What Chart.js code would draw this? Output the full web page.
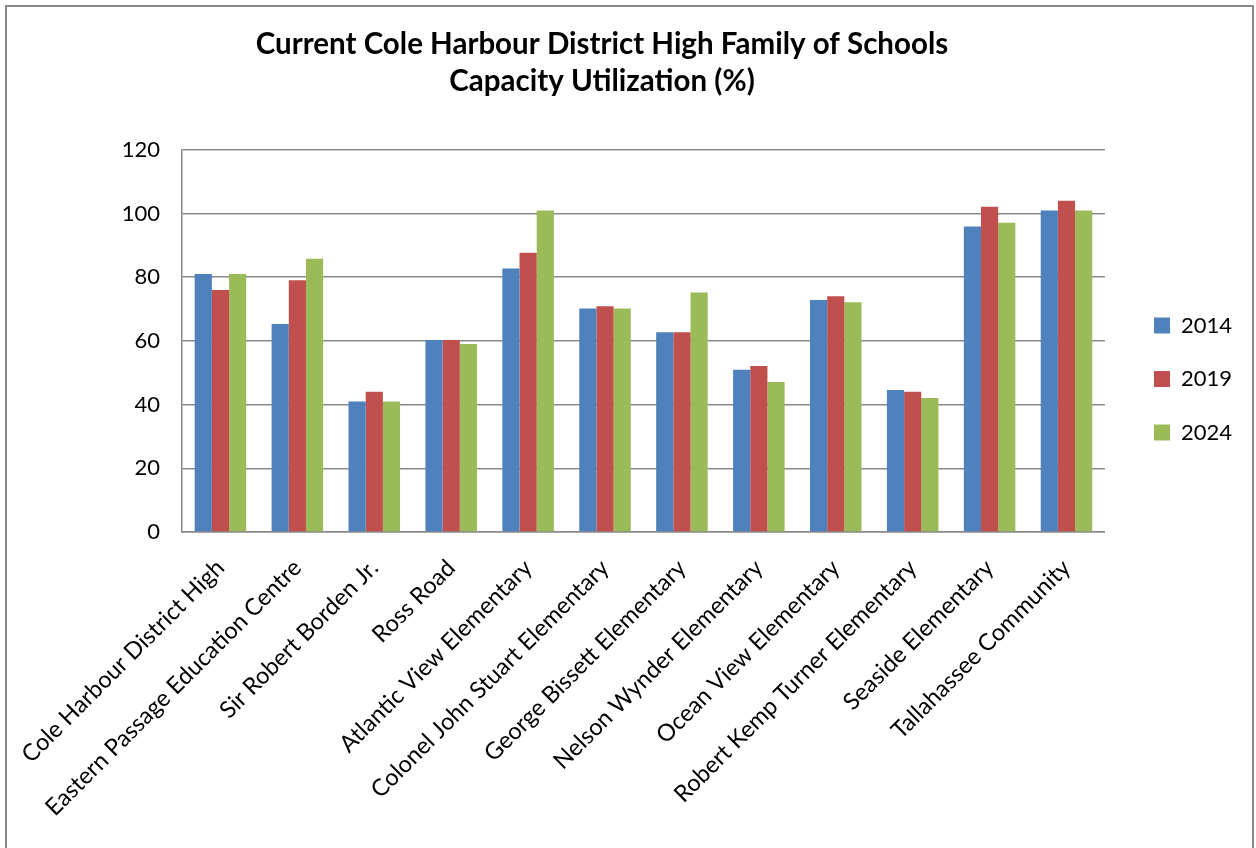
<!DOCTYPE html>
<html>
<head>
<meta charset="utf-8">
<script src="https://cdn.jsdelivr.net/npm/chart.js@4.4.1/dist/chart.umd.min.js"></script>
<style>
    html, body { margin: 0; padding: 0; background: #fff; }
    #chart { position: absolute; left: 0; top: 0; }
    #frame {
        position: absolute; left: 5px; top: 5px; width: 1245px; height: 850px;
        border: 2px solid #898989; border-bottom: none; pointer-events: none;
    }
</style>
</head>
<body>
<canvas id="chart" width="1256" height="848"></canvas>
<div id="frame"></div>
<script>
// data
const schools = [
    'Cole Harbour District High',
    'Eastern Passage Education Centre',
    'Sir Robert Borden Jr.',
    'Ross Road',
    'Atlantic View Elementary',
    'Colonel John Stuart Elementary',
    'George Bissett Elementary',
    'Nelson Wynder Elementary',
    'Ocean View Elementary',
    'Robert Kemp Turner Elementary',
    'Seaside Elementary',
    'Tallahassee Community'
];
const years = ['2014', '2019', '2024'];
const util2014 = [81, 65.3, 41, 60.3, 82.7, 70.2, 62.7, 50.9, 72.8, 44.6, 95.9, 100.9];
const util2019 = [76, 79, 44, 60.3, 87.7, 70.9, 62.7, 52.1, 74, 44, 102.1, 104];
const util2024 = [81, 85.8, 41, 59, 100.9, 70.2, 75.2, 47.1, 72.1, 42.1, 97.1, 100.9];
const titleLines = ['Current Cole Harbour District High Family of Schools', 'Capacity Utilization (%)'];

const colors = ['#4F81BD', '#C0504D', '#9BBB59'];
const gridColor = '#8a8a8a';
const fontFamily = 'Lato, "Open Sans", sans-serif';

// move title and legend to where the original has them
const placeBoxes = {
    id: 'placeBoxes',
    afterLayout(chart) {
        const t = chart.titleBlock;
        t.left = 0;
        t.right = 1204;
        const lg = chart.legend;
        const w = lg.width;
        lg.left = 1154 - lg.options.labels.padding;
        lg.right = lg.left + w;
        lg.top -= 45;
        lg.bottom -= 45;
    }
};

function makeChart() {
    const ctx = document.getElementById('chart').getContext('2d');

    const myChart = new Chart(ctx, {
        type: 'bar',
        data: {
            labels: schools,
            datasets: [
                { label: years[0], data: util2014, backgroundColor: colors[0] },
                { label: years[1], data: util2019, backgroundColor: colors[1] },
                { label: years[2], data: util2024, backgroundColor: colors[2] }
            ]
        },
        options: {
            responsive: false,
            animation: false,
            layout: { padding: { left: 0, right: 31.5, top: 0, bottom: 0 } },
            datasets: {
                bar: { barPercentage: 1.0, categoryPercentage: 0.67, borderWidth: 0 }
            },
            scales: {
                x: {
                    grid: { display: false },
                    border: { display: true, color: gridColor, width: 1.5 },
                    ticks: {
                        color: '#000',
                        font: { family: fontFamily, size: 23.5 },
                        minRotation: 45,
                        maxRotation: 45,
                        autoSkip: false,
                        padding: 14
                    },
                    afterFit(scale) { scale.height = 316; }
                },
                y: {
                    min: 0,
                    max: 120,
                    ticks: {
                        stepSize: 20,
                        color: '#000',
                        font: { family: fontFamily, size: 22 },
                        padding: 22
                    },
                    grid: { color: gridColor, lineWidth: 1.5, drawTicks: false },
                    border: { display: true, color: gridColor, width: 1.5 },
                    afterFit(scale) { scale.width = 182; }
                }
            },
            plugins: {
                title: {
                    display: true,
                    text: titleLines,
                    color: '#000',
                    font: { family: fontFamily, size: 29.5, weight: 'bold', lineHeight: 1.25 },
                    padding: { top: 26.5, bottom: 49.5 }
                },
                legend: {
                    position: 'right',
                    labels: {
                        color: '#000',
                        font: { family: fontFamily, size: 22 },
                        boxWidth: 16,
                        boxHeight: 16,
                        padding: 31.5
                    }
                },
                tooltip: { enabled: false }
            }
        },
        plugins: [placeBoxes]
    });

    return myChart;
}

makeChart();
</script>
</body>
</html>
